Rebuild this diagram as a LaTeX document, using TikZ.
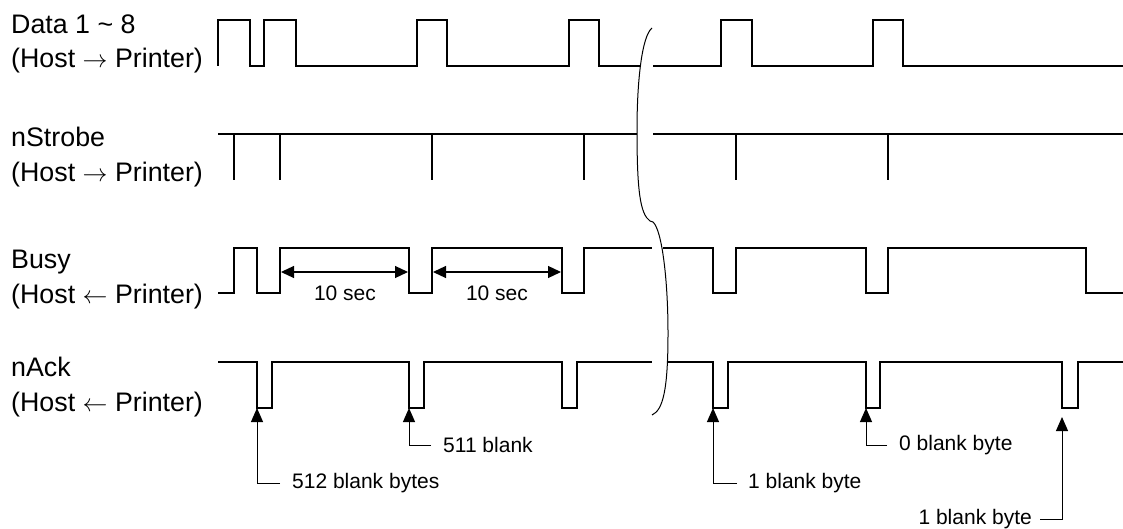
\documentclass[tikz,border=0pt]{standalone}
\usepackage{fontspec}
\setmainfont{Liberation Sans}
\usetikzlibrary{arrows.meta}
\begin{document}
\begin{tikzpicture}[x=1pt,y=-1pt,
  wave/.style={line width=1.8pt, line join=miter, line cap=butt},
  brk/.style={line width=1pt},
  callout/.style={line width=1pt, -{Triangle[length=14pt,width=12pt]}},
  dimarrow/.style={line width=1.2pt, {Triangle[length=13pt,width=12pt]}-{Triangle[length=13pt,width=12pt]}},
  siglabel/.style={anchor=base west, inner sep=0pt, font=\fontsize{26.8}{30}\selectfont},
  notelabel/.style={inner sep=0pt, font=\fontsize{21}{24}\selectfont},
]
\useasboundingbox (0,0) rectangle (1123,529);

% signal labels
\node[siglabel] (dataA) at (11,34) {Data 1 \textasciitilde{} 8};
\node[siglabel] (dataB) at (11,68) {(Host $\rightarrow$ Printer)};
\node[siglabel] (strA) at (11,147) {nStrobe};
\node[siglabel] (strB) at (11,182) {(Host $\rightarrow$ Printer)};
\node[siglabel] (busyA) at (11,268) {Busy};
\node[siglabel] (busyB) at (11,303) {(Host $\leftarrow$ Printer)};
\node[siglabel] (ackA) at (11,376) {nAck};
\node[siglabel] (ackB) at (11,411) {(Host $\leftarrow$ Printer)};

% Data 1~8
\draw[wave] (218,66) -- (218,20) -- (250,20) -- (250,66) -- (264,66) -- (264,20) -- (296,20) -- (296,66)
  -- (417,66) -- (417,20) -- (447,20) -- (447,66) -- (569,66) -- (569,20) -- (599,20) -- (599,66) -- (640,66);
\draw[wave] (653,66) -- (721,66) -- (721,20) -- (752,20) -- (752,66) -- (873,66) -- (873,20) -- (903,20) -- (903,66) -- (1123,66);

% nStrobe
\draw[wave] (218,134) -- (637,134);
\draw[wave] (653,134) -- (1123,134);
\foreach \x in {234,280,432,584,736,888}
  \draw[wave] (\x,134) -- (\x,180);

% Busy
\draw[wave] (218,293) -- (234,293) -- (234,248) -- (257,248) -- (257,293) -- (280,293) -- (280,248)
  -- (409,248) -- (409,293) -- (432,293) -- (432,248) -- (562,248) -- (562,293) -- (584,293) -- (584,248) -- (652,248);
\draw[wave] (663,248) -- (713,248) -- (713,293) -- (736,293) -- (736,248) -- (866,248) -- (866,293)
  -- (888,293) -- (888,248) -- (1086,248) -- (1086,293) -- (1123,293);

% nAck
\draw[wave] (218,362) -- (257,362) -- (257,408) -- (272,408) -- (272,362) -- (409,362) -- (409,408) -- (424,408)
  -- (424,362) -- (562,362) -- (562,408) -- (577,408) -- (577,362) -- (652,362);
\draw[wave] (668,362) -- (713,362) -- (713,408) -- (728,408) -- (728,362) -- (866,362) -- (866,408) -- (880,408)
  -- (880,362) -- (1062,362) -- (1062,408) -- (1078,408) -- (1078,362) -- (1123,362);

% break mark
\draw[brk] (652,28) .. controls (642,36) and (637,80) .. (637,130)
  .. controls (637,190) and (640,214) .. (650,221) -- (653,222)
  .. controls (662,230) and (668,280) .. (668,333)
  .. controls (668,390) and (663,410) .. (652,415);

% 10 sec dimensions
\coordinate (d1a) at (281,272); \coordinate (d1b) at (408,272);
\coordinate (d2a) at (433,272); \coordinate (d2b) at (561,272);
\draw[dimarrow] (d1a) -- (d1b);
\draw[dimarrow] (d2a) -- (d2b);
\node[notelabel, anchor=base] (sec1) at (345,300) {10 sec};
\node[notelabel, anchor=base] (sec2) at (497,300) {10 sec};

% callouts
\coordinate (t1) at (257,408);
\coordinate (t2) at (409,408);
\coordinate (t3) at (713,408);
\coordinate (t4) at (866,408);
\coordinate (t5) at (1062,417);
\node[notelabel, anchor=west] (l1) at (292,483) {512 blank bytes};
\node[notelabel, anchor=west] (l2) at (443,445) {511 blank};
\node[notelabel, anchor=west] (l3) at (748,483) {1 blank byte};
\node[notelabel, anchor=west] (l4) at (899,445) {0 blank byte};
\node[notelabel, anchor=east] (l5) at (1032,519) {1 blank byte};
\draw[callout] ([xshift=-12pt]l1.west) -| (t1);
\draw[callout] ([xshift=-12pt]l2.west) -| (t2);
\draw[callout] ([xshift=-11pt]l3.west) -| (t3);
\draw[callout] ([xshift=-12pt]l4.west) -| (t4);
\draw[callout] ([xshift=8pt]l5.east) -| (t5);
\end{tikzpicture}
\end{document}
